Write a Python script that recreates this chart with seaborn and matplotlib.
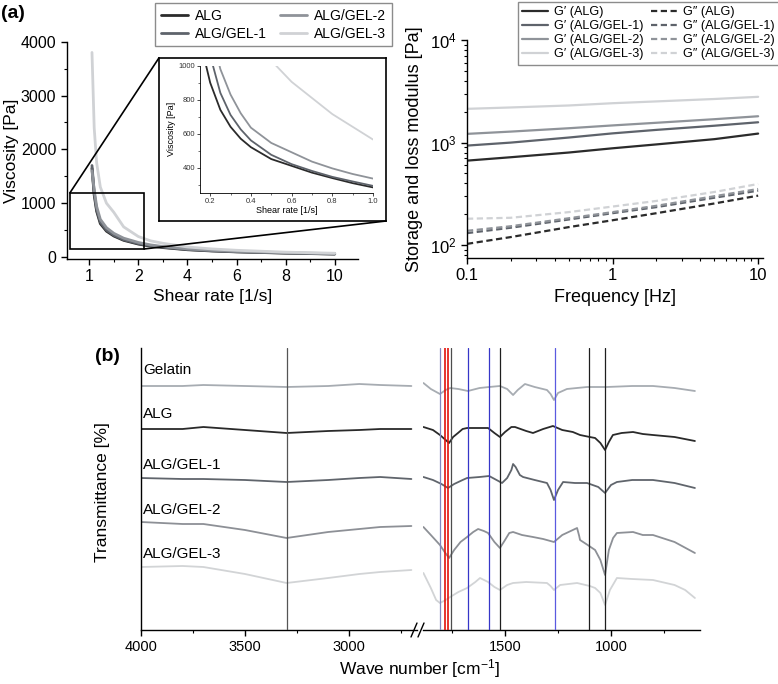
import matplotlib
matplotlib.use('Agg')
import matplotlib.pyplot as plt
import seaborn as sns
from matplotlib.lines import Line2D
from matplotlib.patches import Rectangle, ConnectionPatch
from matplotlib.ticker import MultipleLocator, NullFormatter, LogLocator

W, H = 778, 684

# ---- data ----
samples = ['ALG', 'ALG/GEL-1', 'ALG/GEL-2', 'ALG/GEL-3']
sample_colors = ['#2b2b2b', '#5e636b', '#8f9399', '#d0d2d5']

# flow curve, main panel (axis position units; tick labels are the printed ones)
shear_rate = [0.11, 0.2, 0.3, 0.45, 0.7, 1.0, 1.4, 2.0, 2.5, 3.0, 4.0, 5.0, 6.0, 8.0, 10.0]
visc_alg = [1650, 1150, 850, 620, 480, 390, 310, 240, 200, 175, 135, 112, 95, 72, 55]
visc_gel1 = [1700, 1200, 880, 650, 500, 405, 320, 250, 210, 182, 140, 116, 98, 75, 57]
visc_gel2 = [1600, 1250, 940, 700, 545, 440, 350, 270, 225, 195, 150, 124, 105, 80, 62]
visc_gel3 = [3800, 2400, 1750, 1300, 1000, 830, 560, 380, 300, 255, 186, 150, 125, 90, 70]
shear_ticks = [0, 2, 4, 6, 8, 10]
shear_ticklabels = ['1', '2', '4', '6', '8', '10']

# inset
inset_rate = [0.18, 0.2, 0.25, 0.3, 0.35, 0.4, 0.5, 0.6, 0.7, 0.8, 0.9, 1.0]
inset_alg = [1000, 900, 740, 640, 570, 520, 450, 410, 370, 338, 308, 283]
inset_gel1 = [1180, 1060, 840, 710, 625, 560, 475, 420, 380, 345, 318, 292]
inset_gel2 = [1350, 1220, 980, 830, 720, 635, 545, 490, 435, 395, 362, 335]
inset_rate_gel3 = [0.5, 0.6, 0.7, 0.8, 0.9, 1.0]
inset_gel3 = [1030, 905, 810, 715, 640, 565]

# oscillation sweep
freq = [0.1, 0.2, 0.5, 1, 2, 5, 10]
gp_alg = [667, 720, 800, 880, 960, 1080, 1224]
gp_gel1 = [935, 1000, 1120, 1230, 1330, 1460, 1578]
gp_gel2 = [1216, 1280, 1380, 1470, 1560, 1690, 1806]
gp_gel3 = [2133, 2200, 2300, 2420, 2520, 2660, 2793]
gpp_alg = [103, 120, 150, 175, 205, 255, 304]
gpp_gel1 = [131, 148, 178, 205, 235, 290, 340]
gpp_gel2 = [138, 153, 183, 210, 242, 300, 353]
gpp_gel3 = [181, 185, 210, 238, 270, 330, 395]

# FTIR (offset transmittance, arbitrary units)
ftir_names = ['Gelatin', 'ALG', 'ALG/GEL-1', 'ALG/GEL-2', 'ALG/GEL-3']
ftir_colors = ['#a7acb2', '#2a2a2a', '#60656c', '#8d9096', '#d2d4d6']
ftir_label_y = [260, 216, 165, 120, 76]

wn_left = [4000, 3800, 3700, 3500, 3300, 3100, 2950, 2850, 2700]
left_gelatin = [244, 244, 245, 244, 243, 244, 246, 245, 244]
left_alg = [201, 201, 203, 200, 197, 199, 200, 201, 201]
left_gel1 = [152, 151, 151, 150, 148, 150, 152, 153, 151]
left_gel2 = [108, 106, 106, 100, 92, 98, 101, 103, 104]
left_gel3 = [63, 64, 63, 56, 47, 52, 56, 58, 60]

wn_gelatin = [1885, 1850, 1807, 1780, 1759, 1720, 1675, 1620, 1575, 1524, 1490, 1462, 1440,
              1406, 1360, 1302, 1285, 1269, 1250, 1208, 1113, 1019, 900, 802, 700, 604]
right_gelatin = [247, 241, 236, 240, 242, 241, 239, 242, 243, 244, 241, 235, 240,
                 246, 243, 240, 236, 230, 237, 241, 243, 243, 244, 244, 242, 239]
wn_alg = [1885, 1840, 1807, 1780, 1764, 1745, 1722, 1700, 1679, 1620, 1580, 1550, 1524, 1500,
          1470, 1453, 1400, 1368, 1320, 1274, 1230, 1180, 1146, 1100, 1075, 1050, 1028, 1010,
          991, 950, 896, 850, 802, 700, 604]
right_alg = [203, 200, 195, 190, 187, 193, 197, 201, 202, 202, 202, 197, 193, 198,
             203, 203, 199, 197, 201, 204, 200, 198, 195, 193, 192, 187, 180, 188,
             195, 197, 198, 196, 195, 193, 189]
wn_gel1 = [1885, 1840, 1800, 1769, 1740, 1700, 1679, 1620, 1575, 1540, 1514, 1490, 1470, 1462,
           1450, 1430, 1415, 1360, 1302, 1285, 1269, 1250, 1226, 1170, 1113, 1060, 1028, 1000,
           972, 900, 802, 700, 604]
right_gel1 = [153, 150, 146, 142, 146, 150, 152, 153, 154, 150, 147, 152, 160, 166,
              163, 155, 153, 150, 147, 140, 130, 140, 148, 147, 147, 143, 137, 145,
              148, 150, 150, 147, 142]
wn_gel2 = [1885, 1850, 1807, 1785, 1764, 1740, 1710, 1679, 1650, 1627, 1600, 1580, 1550, 1524,
           1500, 1480, 1462, 1420, 1368, 1320, 1269, 1230, 1190, 1160, 1150, 1146, 1110, 1075,
           1050, 1028, 1010, 990, 972, 896, 850, 802, 700, 604]
right_gel2 = [103, 95, 85, 78, 72, 80, 88, 93, 98, 101, 99, 97, 88, 82,
              90, 97, 98, 95, 93, 91, 88, 95, 99, 102, 94, 90, 85, 80,
              70, 55, 80, 92, 97, 98, 95, 95, 88, 77]
wn_gel3 = [1885, 1850, 1825, 1807, 1780, 1759, 1720, 1679, 1640, 1618, 1580, 1550, 1524, 1490,
           1462, 1400, 1302, 1285, 1269, 1240, 1160, 1100, 1075, 1050, 1028, 1005, 972, 900,
           802, 700, 650, 604]
right_gel3 = [57, 42, 30, 27, 30, 33, 38, 42, 48, 52, 48, 43, 40, 45,
              47, 48, 47, 44, 40, 45, 47, 44, 42, 37, 25, 40, 52, 51,
              50, 45, 40, 32]

mark_left = [3298]
mark_right = [1807, 1783, 1767, 1756, 1673, 1574, 1525, 1266, 1102, 1028]
mark_right_colors = ['#8386c0', '#e3120b', '#e3120b', '#4d4d4d', '#3636c8',
                     '#3636c8', '#1e1e1e', '#5a5ae0', '#1e1e1e', '#1e1e1e']

# ---- style ----
sns.set_theme(style='ticks')
plt.rcParams['font.family'] = ['Liberation Sans', 'DejaVu Sans']
plt.rcParams['mathtext.fontset'] = 'custom'
plt.rcParams['mathtext.rm'] = 'Liberation Sans'
plt.rcParams['mathtext.it'] = 'Liberation Sans:italic'
for k in ['text.color', 'axes.labelcolor', 'xtick.color', 'ytick.color', 'axes.edgecolor']:
    plt.rcParams[k] = 'black'
plt.rcParams['axes.linewidth'] = 1.0


def box(l, t, r, b):
    return [l / W, 1 - b / H, (r - l) / W, (b - t) / H]


def drop_legend(ax):
    if ax.get_legend() is not None:
        ax.get_legend().remove()


fig = plt.figure(figsize=(W / 100, H / 100), dpi=100)

# ---- (a) left: viscosity ----
ax1 = fig.add_axes(box(66.7, 41.7, 358.3, 259))
for name, vals, c in zip(samples, [visc_alg, visc_gel1, visc_gel2, visc_gel3], sample_colors):
    sns.lineplot(x=shear_rate, y=vals, color=c, lw=2, ax=ax1, label=name)
h1, l1 = ax1.get_legend_handles_labels()
drop_legend(ax1)
ax1.set_xlim(-0.92, 10.96)
ax1.set_ylim(-37, 4000)
ax1.set_xticks(shear_ticks, shear_ticklabels)
ax1.xaxis.set_minor_locator(MultipleLocator(1))
ax1.yaxis.set_major_locator(MultipleLocator(1000))
ax1.yaxis.set_minor_locator(MultipleLocator(500))
ax1.tick_params(which='major', labelsize=11.5, length=4, width=1)
ax1.tick_params(which='minor', length=2.5, width=0.8)
ax1.set_xlabel('Shear rate [1/s]', fontsize=12.5, labelpad=3)
ax1.set_ylabel('Viscosity [Pa]', fontsize=12.5, labelpad=1.5)
sns.despine(ax=ax1)
ax1.add_patch(Rectangle((-0.79, 149), 3.02, 1042, fill=False, lw=1.2, ec='black', zorder=5))

# inset frame + inset axes
axf = fig.add_axes(box(158.7, 58.3, 386, 221))
axf.set_xticks([])
axf.set_yticks([])
for s in axf.spines.values():
    s.set_linewidth(1.2)
    s.set_color('black')
axi = fig.add_axes(box(200, 65.7, 373, 193))
axi.set_facecolor('none')
for xs, vals, c in zip([inset_rate, inset_rate, inset_rate, inset_rate_gel3],
                       [inset_alg, inset_gel1, inset_gel2, inset_gel3], sample_colors):
    sns.lineplot(x=xs, y=vals, color=c, lw=1.3, ax=axi)
axi.set_xlim(0.15, 1.0)
axi.set_ylim(250, 1000)
axi.xaxis.set_major_locator(MultipleLocator(0.2))
axi.xaxis.set_minor_locator(MultipleLocator(0.1))
axi.yaxis.set_major_locator(MultipleLocator(200))
axi.yaxis.set_minor_locator(MultipleLocator(100))
axi.tick_params(which='major', labelsize=5.5, length=2, width=0.5, pad=1.5, labelcolor='#333333')
axi.tick_params(which='minor', length=1.2, width=0.4)
axi.set_xlabel('Shear rate [1/s]', fontsize=6.5, labelpad=1)
axi.set_ylabel('Viscosity [Pa]', fontsize=6.5, labelpad=2)
for s in ['left', 'bottom']:
    axi.spines[s].set_linewidth(0.6)
sns.despine(ax=axi)

for xa, xb in [((-0.79, 1191), (0, 1)), ((2.23, 149), (1, 0))]:
    con = ConnectionPatch(xyA=xa, coordsA=ax1.transData, xyB=xb, coordsB=axf.transAxes,
                          color='black', lw=1.2)
    fig.add_artist(con)

fig.legend(h1, l1, loc='upper left', bbox_to_anchor=(155 / W, 1 - 3 / H), ncol=2,
           fontsize=10, frameon=True, fancybox=False, edgecolor='#8c8c8c', framealpha=1,
           borderpad=0.4, labelspacing=0.3, columnspacing=0.9, handlelength=2.0,
           handletextpad=0.5, borderaxespad=0)

# ---- (a) right: moduli ----
ax2 = fig.add_axes(box(467, 40, 763, 258))
for name, vals, c in zip(samples, [gp_alg, gp_gel1, gp_gel2, gp_gel3], sample_colors):
    sns.lineplot(x=freq, y=vals, color=c, lw=1.6, ax=ax2, label='G\u2032 (%s)' % name)
for name, vals, c in zip(samples, [gpp_alg, gpp_gel1, gpp_gel2, gpp_gel3], sample_colors):
    sns.lineplot(x=freq, y=vals, color=c, lw=1.6, ls=(0, (2.8, 1.6)), ax=ax2,
                 label='G\u2033 (%s)' % name)
h2, l2 = ax2.get_legend_handles_labels()
drop_legend(ax2)
ax2.set_xscale('log')
ax2.set_yscale('log')
ax2.set_xlim(0.1, 10.8)
ax2.set_ylim(75, 1e4)
ax2.set_xticks([0.1, 1, 10], ['0.1', '1', '10'])
ax2.xaxis.set_minor_locator(LogLocator(base=10, subs=range(2, 10)))
ax2.xaxis.set_minor_formatter(NullFormatter())
ax2.yaxis.set_minor_locator(LogLocator(base=10, subs=range(2, 10)))
ax2.yaxis.set_minor_formatter(NullFormatter())
ax2.tick_params(which='major', labelsize=12, length=4, width=1)
ax2.tick_params(which='minor', length=2.5, width=0.8)
ax2.set_xlabel('Frequency [Hz]', fontsize=13, labelpad=4)
ax2.set_ylabel('Storage and loss modulus [Pa]', fontsize=13, labelpad=5)
sns.despine(ax=ax2)
fig.legend(h2, l2, loc='upper left', bbox_to_anchor=(518 / W, 1 - 2 / H), ncol=2,
           fontsize=9.1, frameon=True, fancybox=False, edgecolor='#8c8c8c', framealpha=1,
           borderpad=0.35, labelspacing=0.15, columnspacing=0.6, handlelength=2.0,
           handletextpad=0.5, borderaxespad=0)

# ---- (b) FTIR, broken axis ----
ax3 = fig.add_axes(box(141, 348, 417, 630))
ax4 = fig.add_axes(box(423, 348, 700, 630))
for vals, c in zip([left_gelatin, left_alg, left_gel1, left_gel2, left_gel3], ftir_colors):
    sns.lineplot(x=wn_left, y=vals, color=c, lw=1.3, ax=ax3)
for xs, vals, c in zip([wn_gelatin, wn_alg, wn_gel1, wn_gel2, wn_gel3],
                       [right_gelatin, right_alg, right_gel1, right_gel2, right_gel3], ftir_colors):
    sns.lineplot(x=xs, y=vals, color=c, lw=1.3, ax=ax4)
for wn in mark_left:
    ax3.axvline(wn, color='#555555', lw=0.9, zorder=3)
for wn, c in zip(mark_right, mark_right_colors):
    ax4.axvline(wn, color=c, lw=1.2 if c == '#e3120b' else 0.9, zorder=3)

ax3.set_xlim(4000, 2673)
ax4.set_xlim(1887, 580)
for ax in [ax3, ax4]:
    ax.set_ylim(0, 282)
    ax.set_yticks([])
    ax.set_ylabel('')
    ax.tick_params(which='major', labelsize=10.5, length=4, width=1)
    ax.tick_params(which='minor', length=2.5, width=0.8)
    ax.spines['top'].set_visible(False)
    ax.spines['right'].set_visible(False)
    ax.set_facecolor('none')
ax4.spines['left'].set_visible(False)
ax3.set_xticks([4000, 3500, 3000])
ax3.set_xticks([3750, 3250, 2750], minor=True)
ax4.set_xticks([1500, 1000])
ax4.set_xticks([1750, 1250, 750], minor=True)

for name, yv in zip(ftir_names, ftir_label_y):
    ax3.text(3990, yv, name, fontsize=11, ha='left', va='center')

for x0 in [411, 418]:
    fig.add_artist(Line2D([x0 / W, (x0 + 6) / W], [1 - 637 / H, 1 - 623 / H],
                          color='black', lw=1, transform=fig.transFigure))

fig.text(102 / W, 1 - 492 / H, 'Transmittance [%]', rotation=90, ha='center', va='center',
         fontsize=12.5)
fig.text(420 / W, 1 - 669 / H, 'Wave number [cm$^{-1}$]', ha='center', va='center',
         fontsize=12.5)

fig.text(1 / W, 1 - 13 / H, '(a)', fontsize=14, fontweight='bold', va='center', ha='left')
fig.text(95 / W, 1 - 357 / H, '(b)', fontsize=14, fontweight='bold', va='center', ha='left')

fig.savefig('out.png', dpi=100)
